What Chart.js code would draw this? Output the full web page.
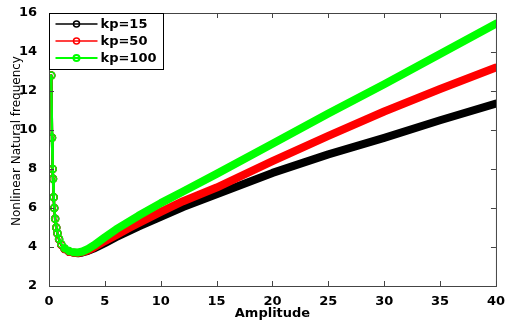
<!DOCTYPE html>
<html>
<head>
<meta charset="utf-8">
<script src="https://cdn.jsdelivr.net/npm/chart.js@4"></script>
<style>
  html, body { margin: 0; padding: 0; background: #fff; }
  #wrap { width: 505px; height: 322px; }
</style>
</head>
<body>
<div id="wrap"><canvas id="freqChart"></canvas></div>
<script>
// data
const amplitude = [0.2, 0.27, 0.33, 0.36, 0.42, 0.47, 0.55, 0.65, 0.75, 0.9, 1.1, 1.4, 1.8, 2.2, 2.6,
  3.0, 3.5, 4, 5, 6, 7, 8, 10, 12, 15, 20, 25, 30, 35, 40];
const freqKp15 = [12.8, 9.6, 8.0, 7.5, 6.55, 6.0, 5.45, 5.0, 4.7, 4.4, 4.12, 3.9, 3.76, 3.7, 3.68,
  3.72, 3.8, 3.92, 4.2, 4.5, 4.78, 5.05, 5.55, 6.05, 6.7, 7.8, 8.75, 9.6, 10.5, 11.35];
const freqKp50 = [12.8, 9.6, 8.0, 7.5, 6.55, 6.0, 5.45, 5.0, 4.7, 4.4, 4.12, 3.9, 3.76, 3.7, 3.69,
  3.74, 3.83, 3.97, 4.3, 4.6, 4.92, 5.22, 5.8, 6.35, 7.05, 8.4, 9.7, 10.95, 12.1, 13.2];
const freqKp100 = [12.8, 9.6, 8.0, 7.5, 6.55, 6.0, 5.45, 5.0, 4.72, 4.42, 4.15, 3.93, 3.79, 3.73, 3.72,
  3.77, 3.9, 4.08, 4.5, 4.9, 5.25, 5.6, 6.25, 6.85, 7.75, 9.3, 10.85, 12.35, 13.9, 15.45];
const seriesLabels = ["kp=15", "kp=50", "kp=100"];
const seriesColors = ["#000000", "#ff0000", "#00ff00"];
const xTicks = [0, 5, 10, 15, 20, 25, 30, 35, 40];
const yTicks = [2, 4, 6, 8, 10, 12, 14, 16];

const toPoints = (vals) => vals.map((v, i) => ({ x: amplitude[i], y: v }));
const FAMILY = "'DejaVu Sans', 'Liberation Sans', Arial, sans-serif";
const tickFont = { family: FAMILY, size: 13, weight: "bold" };

// matlab-ish frame with inward ticks, y label and boxed legend
const matlabFrame = {
  id: "matlabFrame",
  afterDatasetsDraw(chart) {
    const { ctx, chartArea: a, scales } = chart;
    ctx.save();
    ctx.strokeStyle = "#444";
    ctx.lineWidth = 1;
    ctx.strokeRect(a.left + 0.5, a.top + 0.5, a.right - a.left, a.bottom - a.top);
    ctx.beginPath();
    xTicks.forEach((t) => {
      const px = Math.round(scales.x.getPixelForValue(t)) + 0.5;
      ctx.moveTo(px, a.bottom); ctx.lineTo(px, a.bottom - 5);
      ctx.moveTo(px, a.top); ctx.lineTo(px, a.top + 5);
    });
    yTicks.forEach((t) => {
      const py = Math.round(scales.y.getPixelForValue(t)) + 0.5;
      ctx.moveTo(a.left, py); ctx.lineTo(a.left + 5, py);
      ctx.moveTo(a.right, py); ctx.lineTo(a.right - 5, py);
    });
    ctx.stroke();

    // y axis label
    ctx.save();
    ctx.translate(17, 141);
    ctx.rotate(-Math.PI / 2);
    ctx.fillStyle = "#000";
    ctx.font = "12px " + FAMILY;
    ctx.textAlign = "center";
    ctx.textBaseline = "middle";
    ctx.fillText("Nonlinear Natural frequency", 0, 0);
    ctx.restore();

    // legend box
    const bx = a.left + 0.5, by = a.top + 0.5, bw = 114, bh = 56;
    ctx.fillStyle = "#fff";
    ctx.fillRect(bx, by, bw, bh);
    ctx.strokeStyle = "#000";
    ctx.strokeRect(bx, by, bw, bh);
    ctx.font = "bold 13px " + FAMILY;
    ctx.textBaseline = "middle";
    seriesLabels.forEach((lab, i) => {
      const y = by + 10.5 + i * 17;
      ctx.strokeStyle = seriesColors[i];
      ctx.lineWidth = i === 2 ? 2 : 1.5;
      ctx.beginPath();
      ctx.moveTo(bx + 6, y); ctx.lineTo(bx + 48, y);
      ctx.stroke();
      ctx.beginPath();
      ctx.arc(bx + 27, y, 3, 0, Math.PI * 2);
      ctx.stroke();
      ctx.fillStyle = "#000";
      ctx.fillText(lab, bx + 51, y + 1);
    });
    ctx.restore();
  }
};

const makeDataset = (label, vals, color, order) => ({
  label: label,
  data: toPoints(vals),
  borderColor: color,
  backgroundColor: color,
  pointBorderColor: color,
  pointBackgroundColor: "rgba(255,255,255,0)",
  pointBorderWidth: 1.5,
  pointRadius: (c) => (c.raw && c.raw.x < 2.0 ? 3.5 : 0),
  borderWidth: 2,
  segment: {
    borderWidth: (c) => (c.p0.parsed.x >= 2.2 ? 8 : c.p0.parsed.x >= 1.4 ? 6 : 2.5)
  },
  borderCapStyle: "round",
  borderJoinStyle: "round",
  tension: 0,
  order: order
});

document.addEventListener("DOMContentLoaded", () => {
  const ctx = document.getElementById("freqChart").getContext("2d");
  new Chart(ctx, {
    type: "line",
    data: {
      datasets: [
        makeDataset(seriesLabels[0], freqKp15, seriesColors[0], 2),
        makeDataset(seriesLabels[1], freqKp50, seriesColors[1], 1),
        makeDataset(seriesLabels[2], freqKp100, seriesColors[2], 0)
      ]
    },
    options: {
      responsive: true,
      maintainAspectRatio: false,
      animation: false,
      layout: { padding: { left: 0, right: 7, top: 13, bottom: 0 } },
      plugins: { legend: { display: false }, tooltip: { enabled: false } },
      scales: {
        x: {
          type: "linear",
          min: 0, max: 40,
          afterBuildTicks: (s) => { s.ticks = xTicks.map((v) => ({ value: v })); },
          afterFit: (s) => { s.height = 36; },
          grid: { display: false },
          border: { display: false },
          ticks: { color: "#000", font: tickFont, padding: 0, maxRotation: 0 },
          title: { display: true, text: "Amplitude", color: "#000", font: tickFont, padding: { top: 0, bottom: 1 } }
        },
        y: {
          min: 2, max: 16,
          afterBuildTicks: (s) => { s.ticks = yTicks.map((v) => ({ value: v })); },
          afterFit: (s) => { s.width = 49; },
          grid: { display: false },
          border: { display: false },
          ticks: { color: "#000", font: tickFont, padding: 4 }
        }
      }
    },
    plugins: [matlabFrame]
  });
});
</script>
</body>
</html>
